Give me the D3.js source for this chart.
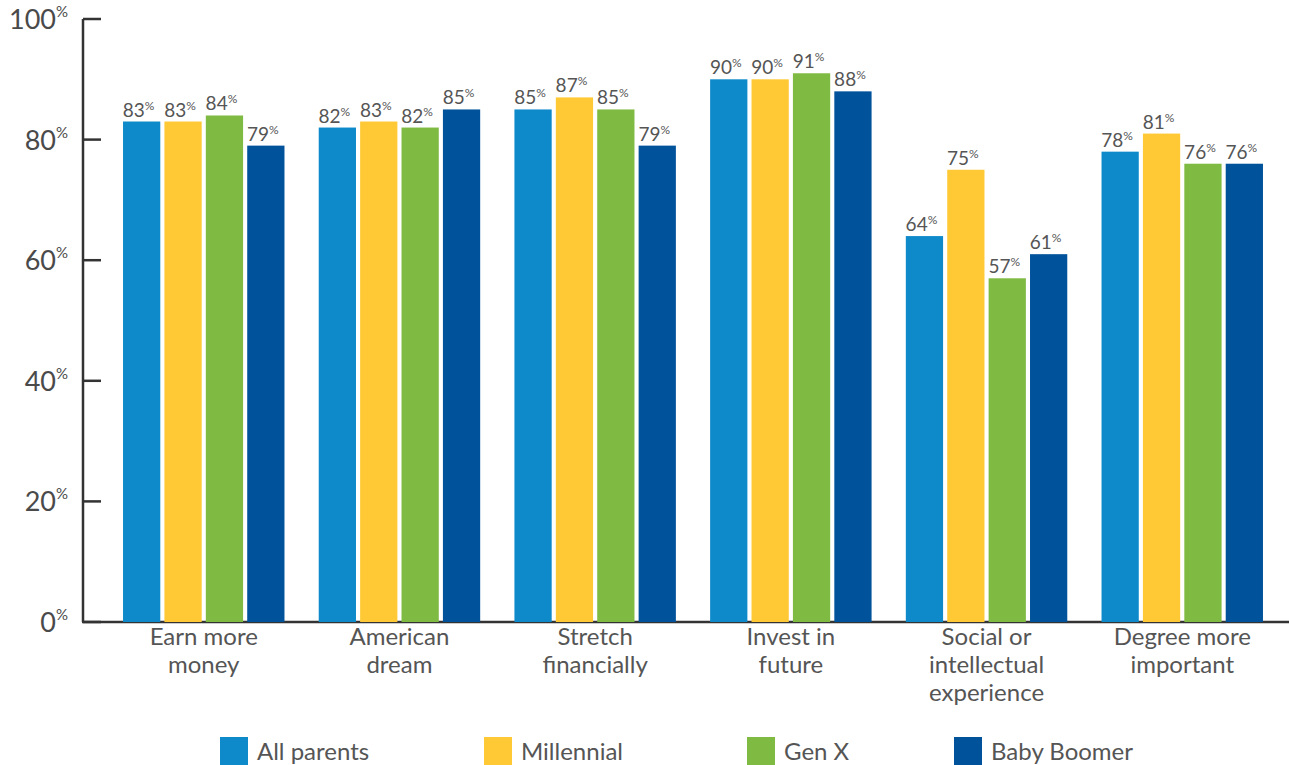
<!DOCTYPE html>
<html><head><meta charset="utf-8">
<script src="https://cdn.jsdelivr.net/npm/d3@7"></script>
<style>body{margin:0;background:#fff;} svg{display:block;font-family:Lato,"Open Sans",sans-serif;}</style>
</head><body><svg id="c" width="1289" height="765"></svg>
<script>
const categories = [["Earn more","money"],["American","dream"],["Stretch","financially"],["Invest in","future"],["Social or","intellectual","experience"],["Degree more","important"]];
const seriesNames = ["All parents","Millennial","Gen X","Baby Boomer"];
const allParents = [83,82,85,90,64,78];
const millennial = [83,83,87,90,75,81];
const genX = [84,82,85,91,57,76];
const babyBoomer = [79,85,79,88,61,76];
const yTicks = [0,20,40,60,80,100];
const colors = ["#0E8ACB","#FFC936","#7FBA42","#00529B"];
const series = [allParents, millennial, genX, babyBoomer];

const svg = d3.select("#c");
const txt = "#555";
const y = d3.scaleLinear().domain([0,100]).range([622,19]);
const x0 = d3.scaleBand().domain(d3.range(categories.length)).range([106,1280]).paddingInner(0.175).paddingOuter(0.087);
const x1 = d3.scaleBand().domain(d3.range(seriesNames.length)).range([0,x0.bandwidth()]).paddingInner(0.1);

svg.append("line").attr("x1",83).attr("x2",83).attr("y1",y(100)).attr("y2",y(0)).attr("stroke","#333").attr("stroke-width",2.5);
svg.append("line").attr("x1",82).attr("x2",1289).attr("y1",y(0)).attr("y2",y(0)).attr("stroke","#333").attr("stroke-width",2.5);
yTicks.forEach(t=>{
  svg.append("line").attr("x1",83).attr("x2",101).attr("y1",y(t)).attr("y2",y(t)).attr("stroke","#333").attr("stroke-width",2.5);
  const tx = svg.append("text").attr("x",68).attr("y",y(t)+10).attr("text-anchor","end").attr("fill","#4a4a4a").attr("font-size",27);
  tx.append("tspan").text(t);
  tx.append("tspan").attr("font-size",15).attr("dy",-12).text("%");
});

const g = svg.append("g");
categories.forEach((c,i)=>{
  series.forEach((s,j)=>{
    const v = s[i];
    const bx = x0(i)+x1(j);
    g.append("rect").attr("x",bx).attr("y",y(v)).attr("width",x1.bandwidth()).attr("height",y(0)-y(v)).attr("fill",colors[j]);
    const t = g.append("text").attr("x",bx+x1.bandwidth()/2-3).attr("y",y(v)-5).attr("text-anchor","middle").attr("fill",txt).attr("font-size",19);
    t.append("tspan").text(v);
    t.append("tspan").attr("font-size",12).attr("dy",-7).text("%");
  });
  const cx = x0(i)+x0.bandwidth()/2;
  c.forEach((line,k)=>{
    svg.append("text").attr("x",cx).attr("y",645+k*28).attr("text-anchor","middle").attr("fill",txt).attr("font-size",24).text(line);
  });
});

const legX = [220,484,747,954];
seriesNames.forEach((n,j)=>{
  svg.append("rect").attr("x",legX[j]).attr("y",737).attr("width",28).attr("height",28).attr("fill",colors[j]);
  svg.append("text").attr("x",legX[j]+37).attr("y",760).attr("fill",txt).attr("font-size",24).text(n);
});
</script></body></html>
